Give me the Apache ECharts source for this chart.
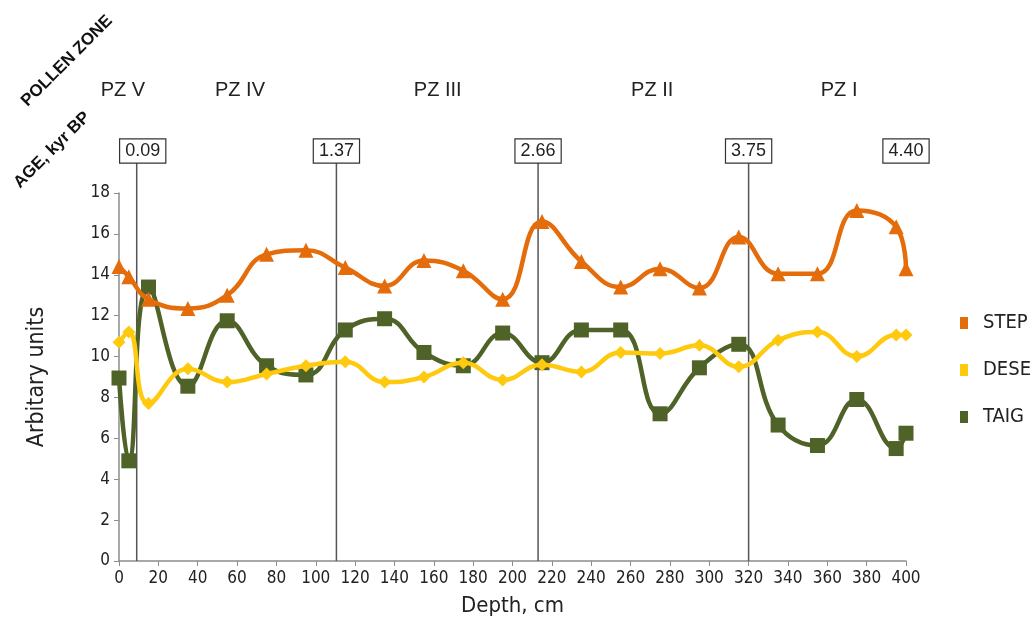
<!DOCTYPE html>
<html>
<head>
<meta charset="utf-8">
<script src="https://cdn.jsdelivr.net/npm/echarts@6/dist/echarts.min.js"></script>
<style>html,body{margin:0;padding:0;background:#fff}#chart{width:1034px;height:628px}</style>
</head>
<body>
<div id="chart"></div>
<script>
// ---- data ----
const depths = [0, 5, 15, 35, 55, 75, 95, 115, 135, 155, 175, 195, 215, 235, 255, 275, 295, 315, 335, 355, 375, 395, 400];
const step = [14.4, 13.9, 12.8, 12.35, 13.0, 15.0, 15.2, 14.35, 13.45, 14.7, 14.2, 12.8, 16.6, 14.65, 13.4, 14.3, 13.35, 15.85, 14.05, 14.05, 17.15, 16.35, 14.3];
const dese = [10.7, 11.2, 7.7, 9.4, 8.75, 9.15, 9.55, 9.75, 8.75, 9.0, 9.7, 8.85, 9.6, 9.25, 10.2, 10.15, 10.55, 9.5, 10.8, 11.2, 10.0, 11.05, 11.05];
const taig = [8.95, 4.9, 13.4, 8.55, 11.75, 9.55, 9.1, 11.3, 11.85, 10.2, 9.55, 11.15, 9.7, 11.3, 11.3, 7.2, 9.45, 10.6, 6.65, 5.65, 7.9, 5.5, 6.25];
const ageDepths = [9, 110.5, 213, 320, 400];
const ageLabels = ['0.09', '1.37', '2.66', '3.75', '4.40'];
const ageHasLine = [1, 1, 1, 1, 0];
const zoneDepths = [2, 61.5, 162, 271, 366];
const zoneLabels = ['PZ V', 'PZ IV', 'PZ III', 'PZ II', 'PZ I'];
const seriesNames = ['STEP', 'DESE', 'TAIG'];

const pair = (arr) => depths.map((d, i) => [d, arr[i]]);
const narrow = "'Liberation Sans Narrow', 'DejaVu Sans Condensed', sans-serif";
const arial = "'Liberation Sans', Arial, sans-serif";

const chart = echarts.init(document.getElementById('chart'));
chart.setOption({
  backgroundColor: '#fff',
  animation: false,
  grid: [
    { left: 119, right: 128, top: 193, bottom: 67 },
    { left: 119, right: 128, top: 61, bottom: 67 }
  ],
  xAxis: [
    {
      type: 'value', gridIndex: 0, min: 0, max: 400, interval: 20,
      name: 'Depth, cm', nameLocation: 'middle', nameGap: 34,
      nameTextStyle: { fontFamily: narrow, fontSize: 22, color: '#222' },
      axisLine: { lineStyle: { color: '#8c8c8c', width: 1.5 } },
      axisTick: { show: true, length: 5, lineStyle: { color: '#8c8c8c' } },
      axisLabel: { fontFamily: narrow, fontSize: 17, color: '#222', margin: 9 },
      splitLine: { show: false }
    },
    { type: 'value', gridIndex: 1, min: 0, max: 400, show: false }
  ],
  yAxis: [
    {
      type: 'value', gridIndex: 0, min: 0, max: 18, interval: 2,
      name: 'Arbitary units', nameLocation: 'middle', nameGap: 70, nameRotate: 90,
      nameTextStyle: { fontFamily: narrow, fontSize: 23, color: '#222' },
      axisLine: { show: true, lineStyle: { color: '#8c8c8c', width: 1.5 } },
      axisTick: { show: true, length: 5, lineStyle: { color: '#8c8c8c' } },
      axisLabel: { fontFamily: narrow, fontSize: 17, color: '#222', margin: 9 },
      splitLine: { show: false }
    },
    { type: 'value', gridIndex: 1, min: 0, max: 25, show: false }
  ],
  legend: {
    orient: 'vertical', left: 955, top: 308, itemGap: 27,
    itemWidth: 8, itemHeight: 12, icon: 'rect',
    textStyle: { fontFamily: narrow, fontSize: 20, color: '#222', padding: [0, 0, 0, 10] },
    data: seriesNames
  },
  graphic: [
    { type: 'text', x: 67, y: 61, rotation: Math.PI / 4,
      style: { text: 'POLLEN ZONE', font: "bold 17px " + arial, fill: '#111', align: 'center', verticalAlign: 'middle' } },
    { type: 'text', x: 52, y: 150, rotation: Math.PI / 4,
      style: { text: 'AGE, kyr BP', font: "bold 17px " + arial, fill: '#111', align: 'center', verticalAlign: 'middle' } }
  ],
  series: [
    {
      name: 'AgeLines', type: 'custom', xAxisIndex: 1, yAxisIndex: 1, silent: true, z: 1,
      data: ageDepths.map((d, i) => [d, ageHasLine[i], i]),
      renderItem: function (params, api) {
        const d = api.value(0);
        const i = api.value(2);
        const p0 = api.coord([d, 0]);
        const p1 = api.coord([d, 19.9]);
        const pl = api.coord([d, 20.5]);
        const children = [];
        if (api.value(1)) {
          children.push({ type: 'line', shape: { x1: p0[0], y1: p0[1], x2: p1[0], y2: p1[1] },
            style: { stroke: '#555', lineWidth: 1.5 } });
        }
        children.push({ type: 'text', x: pl[0] + (i === 0 ? 6 : 0), y: pl[1],
          style: { text: ageLabels[i], font: "18px " + arial, fill: '#222',
            align: 'center', verticalAlign: 'middle', backgroundColor: '#fff',
            borderColor: '#333', borderWidth: 1.2, padding: [3, 5, 2, 5] } });
        return { type: 'group', children: children };
      }
    },
    {
      name: 'Zones', type: 'custom', xAxisIndex: 1, yAxisIndex: 1, silent: true,
      data: zoneDepths.map((d, i) => [d, i]),
      renderItem: function (params, api) {
        const p = api.coord([api.value(0), 23.55]);
        return { type: 'text', x: p[0], y: p[1],
          style: { text: zoneLabels[api.value(1)], font: "20px " + arial, fill: '#222', align: 'center', verticalAlign: 'middle' } };
      }
    },
    {
      name: 'STEP', type: 'line', smooth: 0.45, data: pair(step), z: 5,
      symbol: 'triangle', symbolSize: 15,
      itemStyle: { color: '#E46C0A' }, lineStyle: { color: '#E46C0A', width: 4.5 }
    },
    {
      name: 'DESE', type: 'line', smooth: 0.45, data: pair(dese), z: 4,
      symbol: 'diamond', symbolSize: 13,
      itemStyle: { color: '#FFC90E' }, lineStyle: { color: '#FFC90E', width: 4.5 }
    },
    {
      name: 'TAIG', type: 'line', smooth: 0.45, data: pair(taig), z: 3,
      symbol: 'rect', symbolSize: 15,
      itemStyle: { color: '#4F6228' }, lineStyle: { color: '#4F6228', width: 4.5 }
    }
  ]
});
</script>
</body>
</html>
